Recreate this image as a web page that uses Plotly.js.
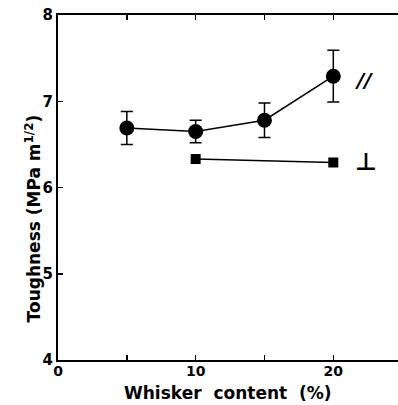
<!DOCTYPE html>
<html><head><meta charset="utf-8">
<script src="https://cdn.plot.ly/plotly-3.0.1.min.js"></script>
<style>body{margin:0;padding:0;background:#fff}#chart{width:398px;height:405px}</style>
</head><body><div id="chart"></div>
<script>
const parX = [5, 10, 15, 20];
const parY = [6.69, 6.65, 6.78, 7.29];
const parErr = [0.19, 0.13, 0.2, 0.3];
const perpX = [10, 20];
const perpY = [6.33, 6.29];
const yTicks = [4, 5, 6, 7, 8];
const xTitle = 'Whisker&nbsp; content&nbsp; (%)';
const yTitle = 'Toughness (MPa m<sup>1/2</sup>)';

const fam = 'DejaVu Sans, Liberation Sans, sans-serif';
const traces = [
  {x: parX, y: parY, type: 'scatter', mode: 'lines+markers',
   line: {color: '#000', width: 1.5},
   marker: {symbol: 'circle', size: 15, color: '#000'},
   error_y: {type: 'data', array: parErr, visible: true, color: '#000', thickness: 1.5, width: 6}},
  {x: perpX, y: perpY, type: 'scatter', mode: 'lines+markers',
   line: {color: '#000', width: 1.5},
   marker: {symbol: 'square', size: 10, color: '#000'}}
];
const layout = {
  width: 398, height: 405,
  margin: {l: 58, r: 0, t: 15, b: 45},
  showlegend: false,
  paper_bgcolor: '#fff', plot_bgcolor: '#fff',
  font: {family: fam, color: '#000'},
  xaxis: {range: [0, 24.7], tick0: 0, dtick: 10,
    ticks: 'inside', ticklen: 5, tickwidth: 1.5, tickcolor: '#000',
    ticklabelstandoff: -3,
    minor: {dtick: 5, ticks: 'inside', ticklen: 5, tickwidth: 1.5, tickcolor: '#000', showgrid: false},
    showline: true, linecolor: '#000', linewidth: 2, mirror: 'ticks',
    showgrid: false, zeroline: false,
    tickfont: {family: fam, size: 14, color: '#000', weight: 'bold'}},
  yaxis: {range: [4, 8], tickvals: yTicks,
    ticks: 'inside', ticklen: 5, tickwidth: 1.5, tickcolor: '#000',
    showline: true, linecolor: '#000', linewidth: 2, mirror: false,
    showgrid: false, zeroline: false,
    tickfont: {family: fam, size: 15, color: '#000', weight: 'bold'}},
  annotations: [
    {x: 0.5, y: -0.095, xref: 'paper', yref: 'paper', text: xTitle, showarrow: false,
     xanchor: 'center', yanchor: 'middle',
     font: {family: fam, size: 17, color: '#000', weight: 'bold'}},
    {x: -0.074, y: 0.41, xref: 'paper', yref: 'paper', text: yTitle, showarrow: false,
     textangle: -90, xanchor: 'center', yanchor: 'middle',
     font: {family: fam, size: 17, color: '#000', weight: 'bold'}},
    {x: 22.2, y: 7.25, xref: 'x', yref: 'y', text: '<i>//</i>', showarrow: false,
     font: {family: fam, size: 20, color: '#000', weight: 'bold'}},
    {x: 22.4, y: 6.3, xref: 'x', yref: 'y', text: '⊥', showarrow: false,
     font: {family: fam, size: 24, color: '#000', weight: 'bold'}}
  ]
};
Plotly.newPlot('chart', traces, layout, {displayModeBar: false, staticPlot: true});
</script>
</body></html>
